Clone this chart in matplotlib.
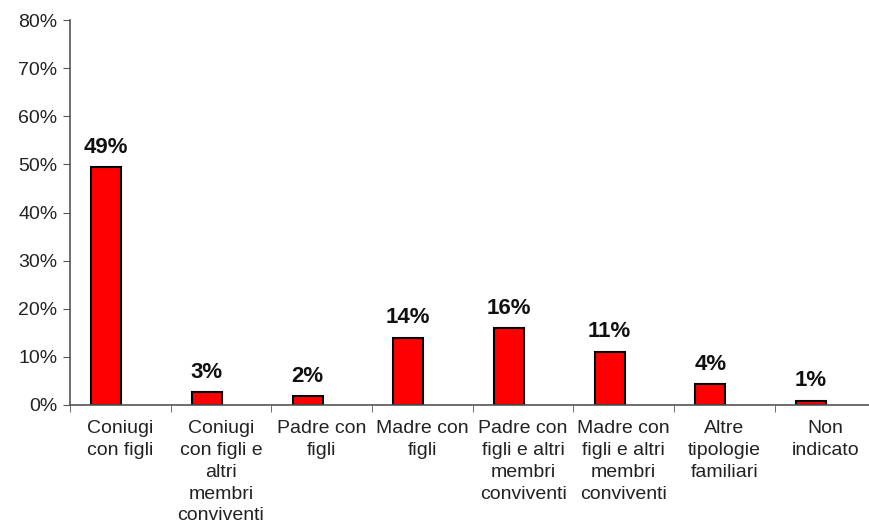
import matplotlib.pyplot as plt
from matplotlib.ticker import FuncFormatter, FixedLocator

plt.rcParams['font.family'] = ['Liberation Sans', 'DejaVu Sans']

categories = ['Coniugi\ncon figli', 'Coniugi\ncon figli e\naltri\nmembri\nconviventi',
              'Padre con\nfigli', 'Madre con\nfigli',
              'Padre con\nfigli e altri\nmembri\nconviventi',
              'Madre con\nfigli e altri\nmembri\nconviventi',
              'Altre\ntipologie\nfamiliari', 'Non\nindicato']
values = [49.4, 2.6, 1.8, 14.0, 15.9, 11.1, 4.3, 0.8]
labels = ['49%', '3%', '2%', '14%', '16%', '11%', '4%', '1%']

fig = plt.figure(figsize=(8.7, 5.28), dpi=100)
ax = fig.add_axes([0.0805, 0.233, 0.92, 0.729])

x = list(range(len(categories)))
bars = ax.bar([i - 0.14 for i in x], values, width=0.3, color='#ff0000',
              edgecolor='black', linewidth=1.5)
for b, lab in zip(bars, labels):
    ax.annotate(lab, (b.get_x() + b.get_width() / 2, b.get_height()),
                xytext=(0, 7), textcoords='offset points', ha='center', va='bottom',
                fontsize=16, fontweight='bold', color='#111111')

ax.set_ylim(0, 80)
ax.set_xlim(-0.5, 7.45)
ax.set_yticks(range(0, 81, 10))
ax.yaxis.set_major_formatter(FuncFormatter(lambda v, p: f'{int(v)}%'))

ax.set_xticks(x)
ax.set_xticklabels(categories, fontsize=14, color='#222222', linespacing=1.37)
ax.xaxis.set_minor_locator(FixedLocator([i + 0.5 for i in range(-1, 8)]))
ax.tick_params(axis='x', which='major', length=0, pad=11)
ax.tick_params(axis='x', which='minor', length=5, color='#555555', direction='out')
ax.tick_params(axis='y', length=5, color='#555555', labelsize=14, labelcolor='#222222', pad=4)

for s in ['top', 'right']:
    ax.spines[s].set_visible(False)
ax.spines['left'].set_color('#555555')
ax.spines['bottom'].set_color('#555555')
ax.spines['left'].set_linewidth(1.2)
ax.spines['bottom'].set_linewidth(1.2)

fig.savefig('out.png', dpi=100)
